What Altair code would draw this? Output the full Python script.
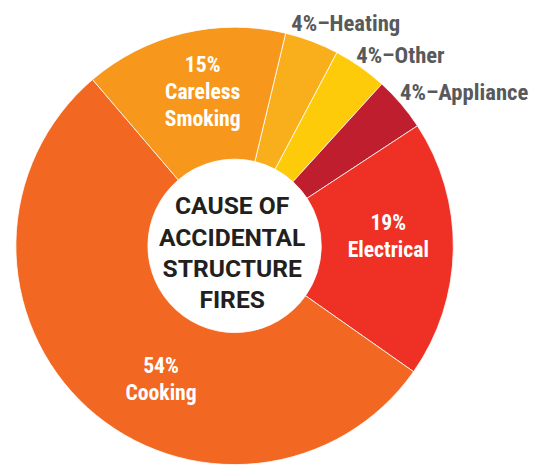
import math
import altair as alt
import pandas as pd

categories = ["Heating", "Other", "Appliance", "Electrical", "Cooking", "Careless Smoking"]
shares = [4, 4, 4, 19, 54, 15]
colors = ["#F9AE1C", "#FDCB0A", "#BE1E2D", "#EE3124", "#F26722", "#F7981D"]
title_lines = ["CAUSE OF", "ACCIDENTAL", "STRUCTURE", "FIRES"]

df = pd.DataFrame({"cause": categories, "share": shares, "order": list(range(len(categories)))})

start = 13.5 * math.pi / 180
theta_scale = alt.Scale(domain=[0, 100], range=[start, start + 2 * math.pi])

LABEL_FONT = "Roboto Condensed, Liberation Sans Narrow, DejaVu Sans Condensed, Roboto"

base = alt.Chart(df).transform_window(
    cum="sum(share)", sort=[alt.SortField("order")], frame=[None, 0]
).transform_calculate(
    start="datum.cum - datum.share", mid="datum.cum - datum.share / 2"
)

arcs = base.mark_arc(innerRadius=88, outerRadius=222, stroke="white", strokeWidth=0.8).encode(
    theta=alt.Theta("start:Q", scale=theta_scale, stack=None),
    theta2="cum:Q",
    color=alt.Color("cause:N", scale=alt.Scale(domain=categories, range=colors), legend=None),
)


def white_label(cat, dx, dy):
    return base.transform_filter(alt.datum.cause == cat).transform_calculate(
        lbl="datum.share + '% ' + datum.cause"
    ).mark_text(
        radius=160, dx=dx, dy=dy, align="center", baseline="alphabetic",
        lineBreak=" ", lineHeight=27.5, font=LABEL_FONT, fontWeight="bold",
        fontSize=22, color="white",
    ).encode(
        theta=alt.Theta("mid:Q", scale=theta_scale, stack=None),
        text="lbl:N",
    )


def grey_label(cat, dx, dy):
    return base.transform_filter(alt.datum.cause == cat).transform_calculate(
        lbl="datum.share + '%\u2013' + datum.cause"
    ).mark_text(
        radius=232, dx=dx, dy=dy, align="left", baseline="alphabetic",
        font=LABEL_FONT, fontWeight="bold", fontSize=23, color="#58595B",
    ).encode(
        theta=alt.Theta("mid:Q", scale=theta_scale, stack=None),
        text="lbl:N",
    )


title = alt.Chart(pd.DataFrame({"t": [0]})).mark_text(
    text="\n".join(title_lines), lineBreak="\n", lineHeight=31.7,
    align="center", baseline="alphabetic", dx=-2.5, dy=-32,
    font="Roboto", fontWeight="bold", fontSize=25, color="#231F20",
).encode(theta=alt.value(0), radius=alt.value(0))

chart = alt.layer(
    arcs,
    white_label("Electrical", -4, -18.5),
    white_label("Cooking", 33, 10.6),
    white_label("Careless Smoking", 5, -21),
    grey_label("Heating", -24.5, -1),
    grey_label("Other", -10, 4),
    grey_label("Appliance", -8.5, 3),
    title,
).properties(
    width=452, height=444,
    padding={"left": 4, "top": 16, "right": 86, "bottom": 0},
    autosize=alt.AutoSizeParams(type="none"),
).configure_view(stroke=None)

chart.save("out.html", embed_options={"renderer": "svg", "actions": False})
